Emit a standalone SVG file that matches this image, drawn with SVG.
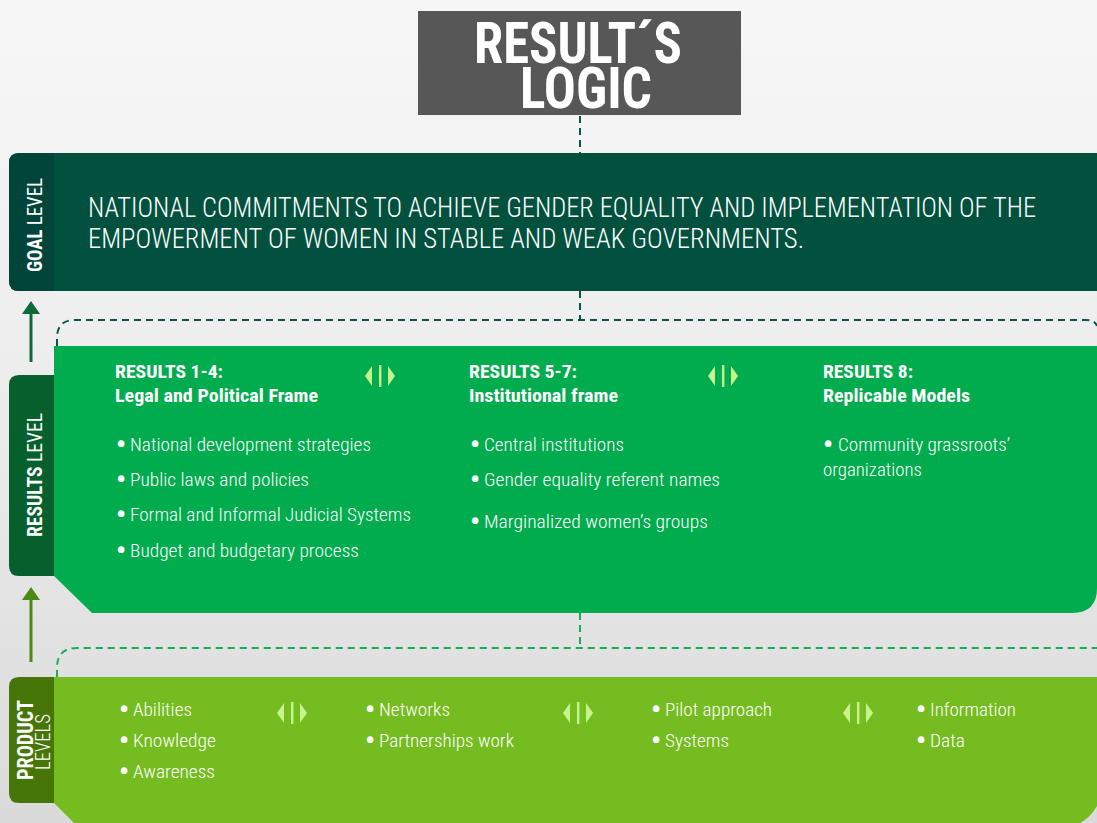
<svg xmlns="http://www.w3.org/2000/svg" width="1097" height="823" viewBox="0 0 1097 823">
<defs>
<linearGradient id="bg" x1="0" y1="0" x2="0" y2="1">
<stop offset="0" stop-color="#f7f7f7"/>
<stop offset="0.5" stop-color="#ececec"/>
<stop offset="1" stop-color="#dadada"/>
</linearGradient>
<g id="dbl">
<polygon points="0,11 7,1 7,21"/>
<rect x="14" y="0" width="2.4" height="22"/>
<polygon points="23,1 23,21 30,11"/>
</g>
</defs>
<style>
text{font-family:"Roboto Condensed","Liberation Sans Narrow","DejaVu Sans Condensed","Liberation Sans",sans-serif;fill:#ffffff}
.b{font-weight:bold}
.goal{font-size:27px;font-weight:300}
.hd{font-size:18px;font-weight:bold}
.it{font-size:19px;font-weight:300}
.side{font-size:20px}
.bu{font-size:28px;font-weight:bold;text-anchor:middle}
.ico{fill:#c5f58c}
</style>
<rect width="1097" height="823" fill="url(#bg)"/>

<g id="connectors" fill="none" stroke-width="2" stroke-dasharray="7,5">
<line x1="580" y1="116" x2="580" y2="153" stroke="#06574a"/>
<line x1="580" y1="291" x2="580" y2="320" stroke="#06574a"/>
<path d="M57,346 V338 Q57,320 75,320 H1085 Q1095,320 1097,326" stroke="#06574a"/>
<line x1="580" y1="613" x2="580" y2="648" stroke="#1aae57"/>
<path d="M57,677 V668 Q57,648 77,648 H1097" stroke="#1aae57"/>
</g>
<g id="arrows" stroke-width="3">
<line x1="31" y1="362" x2="31" y2="310" stroke="#0b6a38"/>
<polygon points="22,314 31,301 40,314" fill="#0b6a38"/>
<line x1="31" y1="662" x2="31" y2="596" stroke="#4b8a10"/>
<polygon points="22,600 31,587 40,600" fill="#4b8a10"/>
</g>

<g id="title">
<rect x="418" y="11" width="323" height="104" fill="#575757"/>
<text x="578" y="63" class="b" font-size="57" text-anchor="middle" textLength="208" lengthAdjust="spacingAndGlyphs">RESULT´S</text>
<text x="586" y="108" class="b" font-size="57" text-anchor="middle" textLength="132" lengthAdjust="spacingAndGlyphs">LOGIC</text>
</g>

<g id="goal">
<path d="M19,153 H1097 V291 H19 Q9,291 9,281 V163 Q9,153 19,153 Z" fill="#02513f"/>
<path d="M19,153 H54 V291 H19 Q9,291 9,281 V163 Q9,153 19,153 Z" fill="#01443a"/>
<text transform="translate(42,225) rotate(-90)" class="side" text-anchor="middle" textLength="94" lengthAdjust="spacingAndGlyphs"><tspan class="b">GOAL</tspan> LEVEL</text>
<text x="88" y="217" class="goal" textLength="948" lengthAdjust="spacingAndGlyphs">NATIONAL COMMITMENTS TO ACHIEVE GENDER EQUALITY AND IMPLEMENTATION OF THE</text>
<text x="88" y="248" class="goal" textLength="716" lengthAdjust="spacingAndGlyphs">EMPOWERMENT OF WOMEN IN STABLE AND WEAK GOVERNMENTS.</text>
</g>

<g id="results">
<path d="M54,346 H1097 V588 Q1097,613 1072,613 H92 L54,576 Z" fill="#00ac4e"/>
<path d="M19,375 H54 V576 H19 Q9,576 9,566 V385 Q9,375 19,375 Z" fill="#06602d"/>
<text transform="translate(42,475) rotate(-90)" class="side" text-anchor="middle" textLength="124" lengthAdjust="spacingAndGlyphs"><tspan class="b">RESULTS</tspan> LEVEL</text>
<use href="#dbl" x="365" y="365" class="ico"/>
<use href="#dbl" x="708" y="365" class="ico"/>
<text x="115" y="378" class="hd" textLength="108" lengthAdjust="spacingAndGlyphs">RESULTS 1-4:</text>
<text x="115" y="402" class="hd" textLength="203" lengthAdjust="spacingAndGlyphs">Legal and Political Frame</text>
<text x="121" y="454" class="bu">•</text>
<text x="130" y="451" class="it" textLength="241" lengthAdjust="spacingAndGlyphs">National development strategies</text>
<text x="121" y="489" class="bu">•</text>
<text x="130" y="486" class="it" textLength="179" lengthAdjust="spacingAndGlyphs">Public laws and policies</text>
<text x="121" y="524" class="bu">•</text>
<text x="130" y="521" class="it" textLength="281" lengthAdjust="spacingAndGlyphs">Formal and Informal Judicial Systems</text>
<text x="121" y="560" class="bu">•</text>
<text x="130" y="557" class="it" textLength="229" lengthAdjust="spacingAndGlyphs">Budget and budgetary process</text>
<text x="469" y="378" class="hd" textLength="108" lengthAdjust="spacingAndGlyphs">RESULTS 5-7:</text>
<text x="469" y="402" class="hd" textLength="149" lengthAdjust="spacingAndGlyphs">Institutional frame</text>
<text x="475" y="454" class="bu">•</text>
<text x="484" y="451" class="it" textLength="140" lengthAdjust="spacingAndGlyphs">Central institutions</text>
<text x="475" y="489" class="bu">•</text>
<text x="484" y="486" class="it" textLength="236" lengthAdjust="spacingAndGlyphs">Gender equality referent names</text>
<text x="475" y="531" class="bu">•</text>
<text x="484" y="528" class="it" textLength="224" lengthAdjust="spacingAndGlyphs">Marginalized women’s groups</text>
<text x="823" y="378" class="hd" textLength="90" lengthAdjust="spacingAndGlyphs">RESULTS 8:</text>
<text x="823" y="402" class="hd" textLength="147" lengthAdjust="spacingAndGlyphs">Replicable Models</text>
<text x="828" y="454" class="bu">•</text>
<text x="838" y="451" class="it" textLength="172" lengthAdjust="spacingAndGlyphs">Community grassroots’</text>
<text x="823" y="476" class="it" textLength="99" lengthAdjust="spacingAndGlyphs">organizations</text>
</g>

<g id="product">
<path d="M54,677 H1097 V806 Q1090,818 1080,823 H74 L54,803 Z" fill="#75bc20"/>
<path d="M19,677 H54 V803 H19 Q9,803 9,793 V687 Q9,677 19,677 Z" fill="#467508"/>
<text transform="translate(33,740) rotate(-90)" class="b" font-size="22" text-anchor="middle" textLength="80" lengthAdjust="spacingAndGlyphs">PRODUCT</text>
<text transform="translate(50,742) rotate(-90)" class="side" font-weight="300" text-anchor="middle" textLength="56" lengthAdjust="spacingAndGlyphs">LEVELS</text>
<use href="#dbl" x="277" y="702" class="ico"/>
<use href="#dbl" x="563" y="702" class="ico"/>
<use href="#dbl" x="843" y="702" class="ico"/>
<text x="124" y="719" class="bu">•</text>
<text x="133" y="716" class="it" textLength="59" lengthAdjust="spacingAndGlyphs">Abilities</text>
<text x="124" y="750" class="bu">•</text>
<text x="133" y="747" class="it" textLength="83" lengthAdjust="spacingAndGlyphs">Knowledge</text>
<text x="124" y="781" class="bu">•</text>
<text x="133" y="778" class="it" textLength="82" lengthAdjust="spacingAndGlyphs">Awareness</text>
<text x="370" y="719" class="bu">•</text>
<text x="379" y="716" class="it" textLength="71" lengthAdjust="spacingAndGlyphs">Networks</text>
<text x="370" y="750" class="bu">•</text>
<text x="379" y="747" class="it" textLength="135" lengthAdjust="spacingAndGlyphs">Partnerships work</text>
<text x="656" y="719" class="bu">•</text>
<text x="665" y="716" class="it" textLength="107" lengthAdjust="spacingAndGlyphs">Pilot approach</text>
<text x="656" y="750" class="bu">•</text>
<text x="665" y="747" class="it" textLength="64" lengthAdjust="spacingAndGlyphs">Systems</text>
<text x="921" y="719" class="bu">•</text>
<text x="930" y="716" class="it" textLength="86" lengthAdjust="spacingAndGlyphs">Information</text>
<text x="921" y="750" class="bu">•</text>
<text x="930" y="747" class="it" textLength="35" lengthAdjust="spacingAndGlyphs">Data</text>
</g>
</svg>
